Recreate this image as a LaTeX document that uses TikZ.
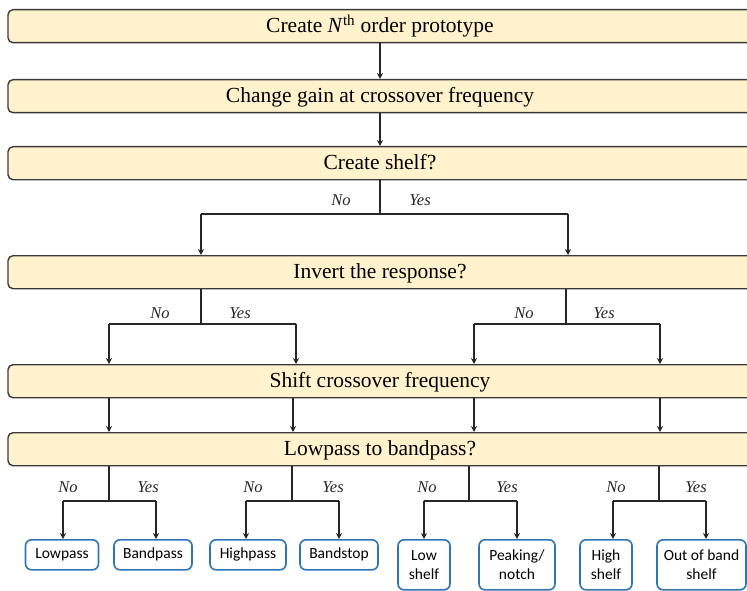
\documentclass[tikz,border=0pt]{standalone}
\usepackage{fontspec}
\setmainfont{Liberation Serif}
\newfontfamily\leaffont{Carlito}
\usetikzlibrary{arrows.meta}
\definecolor{boxfill}{HTML}{FFF2CC}
\definecolor{boxline}{HTML}{3A3A3A}
\definecolor{leafline}{HTML}{2E75B6}
\tikzset{
  stage/.style={draw=boxline, line width=1.4pt, fill=boxfill, rounded corners=5pt,
    minimum width=744pt, minimum height=33pt, inner sep=0pt, anchor=north,
    text height=16pt, text depth=3pt,
    font=\fontsize{21.5}{25}\selectfont},
  leafbox/.style={draw=leafline, line width=1.6pt, rounded corners=6pt, fill=white,
    minimum height=30pt, inner sep=0pt, anchor=north, align=center,
    font=\leaffont\fontsize{15.5}{19}\selectfont},
  trunk/.style={line width=2.6pt, draw=black!85},
  arr/.style={line width=1.8pt, draw=black!85, -{Stealth[length=6pt,width=6pt]}},
  thinarr/.style={line width=1.4pt, draw=black!85, -{Stealth[length=6pt,width=6pt]}},
  lab/.style={font=\itshape\fontsize{16.5}{18}\selectfont, text=black!85}
}
\begin{document}
\begin{tikzpicture}[x=1pt,y=-1pt]
\useasboundingbox (0,0) rectangle (747,591);
\clip (0,0) rectangle (747,591);
% stages
\node[stage] (b1) at (380,9) {Create \textit{N}\textsuperscript{th} order prototype};
\node[stage] (b2) at (380,79) {Change gain at crossover frequency};
\node[stage] (b3) at (380,146) {Create shelf?};
\node[stage] (b4) at (380,255) {Invert the response?};
\node[stage] (b5) at (380,364) {Shift crossover frequency};
\node[stage] (b6) at (380,432) {Lowpass to bandpass?};
% top connectors
\draw[thinarr] (b1.south) -- (b2.north);
\draw[thinarr] (b2.south) -- (b3.north);
% create shelf branch
\coordinate (j3) at (380,214);
\coordinate (j3l) at (201,214);
\coordinate (j3r) at (568,214);
\draw[trunk] (b3.south) -- (j3);
\draw[trunk] (j3l) -- (j3r);
\draw[arr] (j3l) -- (j3l |- b4.north);
\draw[arr] (j3r) -- (j3r |- b4.north);
\node[lab] (n3) at (341,200) {No};
\node[lab] (y3) at (420,200) {Yes};
% invert branches
\coordinate (j4a) at (201,324);
\coordinate (j4al) at (109,324);
\coordinate (j4ar) at (296,324);
\coordinate (j4b) at (566,324);
\coordinate (j4bl) at (474,324);
\coordinate (j4br) at (660,324);
\draw[trunk] (j4a |- b4.south) -- (j4a);
\draw[trunk] (j4b |- b4.south) -- (j4b);
\draw[trunk] (j4al) -- (j4ar);
\draw[trunk] (j4bl) -- (j4br);
\draw[arr] (j4al) -- (j4al |- b5.north);
\draw[arr] (j4ar) -- (j4ar |- b5.north);
\draw[arr] (j4bl) -- (j4bl |- b5.north);
\draw[arr] (j4br) -- (j4br |- b5.north);
\node[lab] (n4a) at (160,313) {No};
\node[lab] (y4a) at (240,313) {Yes};
\node[lab] (n4b) at (524,313) {No};
\node[lab] (y4b) at (604,313) {Yes};
% shift to lowpass
\coordinate (s1) at (109,0);
\coordinate (s2) at (293,0);
\coordinate (s3) at (474,0);
\coordinate (s4) at (660,0);
\foreach \s in {s1,s2,s3,s4}{
  \draw[thinarr] (\s |- b5.south) -- (\s |- b6.north);
}
% leaves
\node[leafbox, minimum width=73pt] (lp) at (62,539) {Lowpass};
\node[leafbox, minimum width=78pt] (bp) at (153,539) {Bandpass};
\node[leafbox, minimum width=76pt] (hp) at (248,539) {Highpass};
\node[leafbox, minimum width=78pt] (bs) at (339,539) {Bandstop};
\node[leafbox, minimum width=52pt, minimum height=50pt] (ls) at (424,539) {Low\\shelf};
\node[leafbox, minimum width=76pt, minimum height=50pt] (pk) at (517,539) {Peaking/\\notch};
\node[leafbox, minimum width=52pt, minimum height=50pt] (hs) at (606,539) {High\\shelf};
\node[leafbox, minimum width=89pt, minimum height=50pt] (ob) at (701.5,539) {Out of band\\shelf};
% lowpass-to-bandpass branches
\coordinate (k1) at (109,501); \coordinate (k1l) at (63,501); \coordinate (k1r) at (156,501);
\coordinate (k2) at (292,501); \coordinate (k2l) at (246,501); \coordinate (k2r) at (339,501);
\coordinate (k3) at (469,501); \coordinate (k3l) at (424,501); \coordinate (k3r) at (517,501);
\coordinate (k4) at (659,501); \coordinate (k4l) at (613,501); \coordinate (k4r) at (706,501);
\foreach \k/\kl/\kr in {k1/k1l/k1r,k2/k2l/k2r,k3/k3l/k3r,k4/k4l/k4r}{
  \draw[trunk] (\k |- b6.south) -- (\k);
  \draw[trunk] (\kl) -- (\kr);
}
\draw[arr] (k1l) -- (k1l |- lp.north);
\draw[arr] (k1r) -- (k1r |- bp.north);
\draw[arr] (k2l) -- (k2l |- hp.north);
\draw[arr] (k2r) -- (k2r |- bs.north);
\draw[arr] (k3l) -- (k3l |- ls.north);
\draw[arr] (k3r) -- (k3r |- pk.north);
\draw[arr] (k4l) -- (k4l |- hs.north);
\draw[arr] (k4r) -- (k4r |- ob.north);
\node[lab] (n61) at (68,487) {No};
\node[lab] (y61) at (148,487) {Yes};
\node[lab] (n62) at (253,487) {No};
\node[lab] (y62) at (333,487) {Yes};
\node[lab] (n63) at (427,487) {No};
\node[lab] (y63) at (507,487) {Yes};
\node[lab] (n64) at (616,487) {No};
\node[lab] (y64) at (696,487) {Yes};
\end{tikzpicture}
\end{document}
